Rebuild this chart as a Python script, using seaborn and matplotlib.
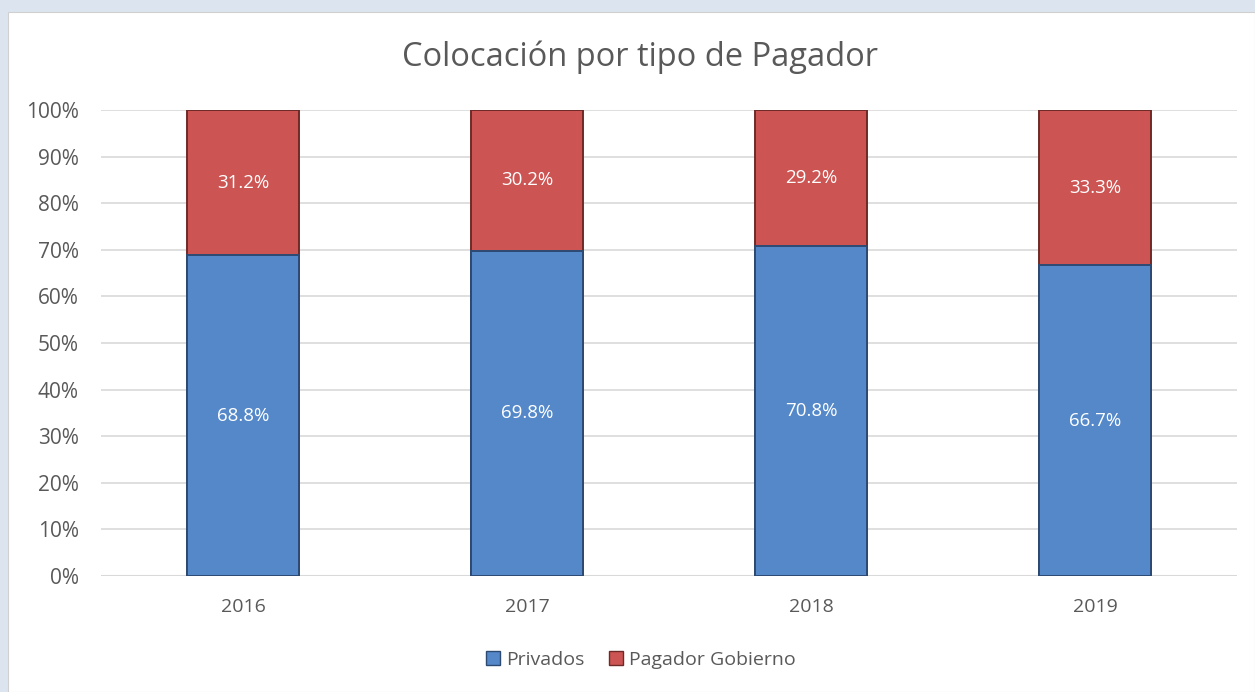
import matplotlib
matplotlib.use("Agg")
import matplotlib.pyplot as plt
import seaborn as sns
import pandas as pd
from matplotlib.patches import Rectangle

years = ["2016", "2017", "2018", "2019"]
privados = [68.8, 69.8, 70.8, 66.7]
gobierno = [31.2, 30.2, 29.2, 33.3]
yticks = [0, 10, 20, 30, 40, 50, 60, 70, 80, 90, 100]
title = "Colocación por tipo de Pagador"
series_names = ["Privados", "Pagador Gobierno"]

sns.set_theme(style="white")
plt.rcParams['font.family'] = ['Open Sans', 'DejaVu Sans']

blue = "#5588C9"
red = "#CC5452"
txt = "#595959"

fig = plt.figure(figsize=(12.55, 6.92), dpi=100)
fig.patch.set_facecolor("#DCE5EF")
bg = Rectangle((8/1255, 0), 1 - 8/1255, 1 - 12/692, transform=fig.transFigure,
               facecolor="white", edgecolor="#d0d0d0", linewidth=0.8, zorder=-5)
fig.patches.append(bg)

ax = fig.add_axes([101/1255, 1 - 576/692, (1237-101)/1255, (576-110)/692])
ax.set_facecolor("none")
ax.set_zorder(1)

df = pd.DataFrame({"year": years, "Privados": privados, "Gobierno": gobierno})
df["total"] = df["Privados"] + df["Gobierno"]

sns.barplot(data=df, x="year", y="total", color=red, width=0.394, ax=ax, saturation=1,
            edgecolor="#6e2a28", linewidth=1.4, zorder=3)
sns.barplot(data=df, x="year", y="Privados", color=blue, width=0.394, ax=ax, saturation=1,
            edgecolor="#2c4a72", linewidth=1.4, zorder=4)

for i in range(len(years)):
    ax.text(i, privados[i] / 2, f"{privados[i]:.1f}%", ha="center", va="center",
            color="white", fontsize=13.5, zorder=6)
    ax.text(i, privados[i] + gobierno[i] / 2, f"{gobierno[i]:.1f}%", ha="center", va="center",
            color="white", fontsize=13.5, zorder=6)

ax.set_ylim(0, 100)
ax.set_xlim(-0.5, 3.5)
ax.set_yticks(yticks)
ax.set_yticklabels([f"{t}%" for t in yticks], color=txt, fontsize=15)
ax.tick_params(axis="x", colors=txt, labelsize=14, pad=16, length=0)
ax.tick_params(axis="y", length=0, pad=16)
for lab in ax.get_xticklabels():
    lab.set_color(txt)
ax.yaxis.grid(True, color="#d9d9d9", linewidth=1.2, zorder=0)
ax.set_axisbelow(True)
for s in ax.spines.values():
    s.set_visible(False)
ax.axhline(0, color="#d9d9d9", linewidth=1.5, zorder=2)
ax.set_xlabel("")
ax.set_ylabel("")

fig.text(0.5 + 12/1255, 1 - 57/692, title, ha="center", va="center", fontsize=23.5, color=txt)

handles = [Rectangle((0, 0), 1, 1, facecolor=blue, edgecolor="#2c4a72"),
           Rectangle((0, 0), 1, 1, facecolor=red, edgecolor="#6e2a28")]
fig.legend(handles, series_names, loc="center", bbox_to_anchor=(641/1255, 1 - 660/692),
           ncol=2, frameon=False, fontsize=14, handlelength=0.7, handleheight=0.7,
           handletextpad=0.3, columnspacing=1.3, labelcolor=txt)

fig.savefig("out.png", dpi=100, facecolor=fig.get_facecolor())
